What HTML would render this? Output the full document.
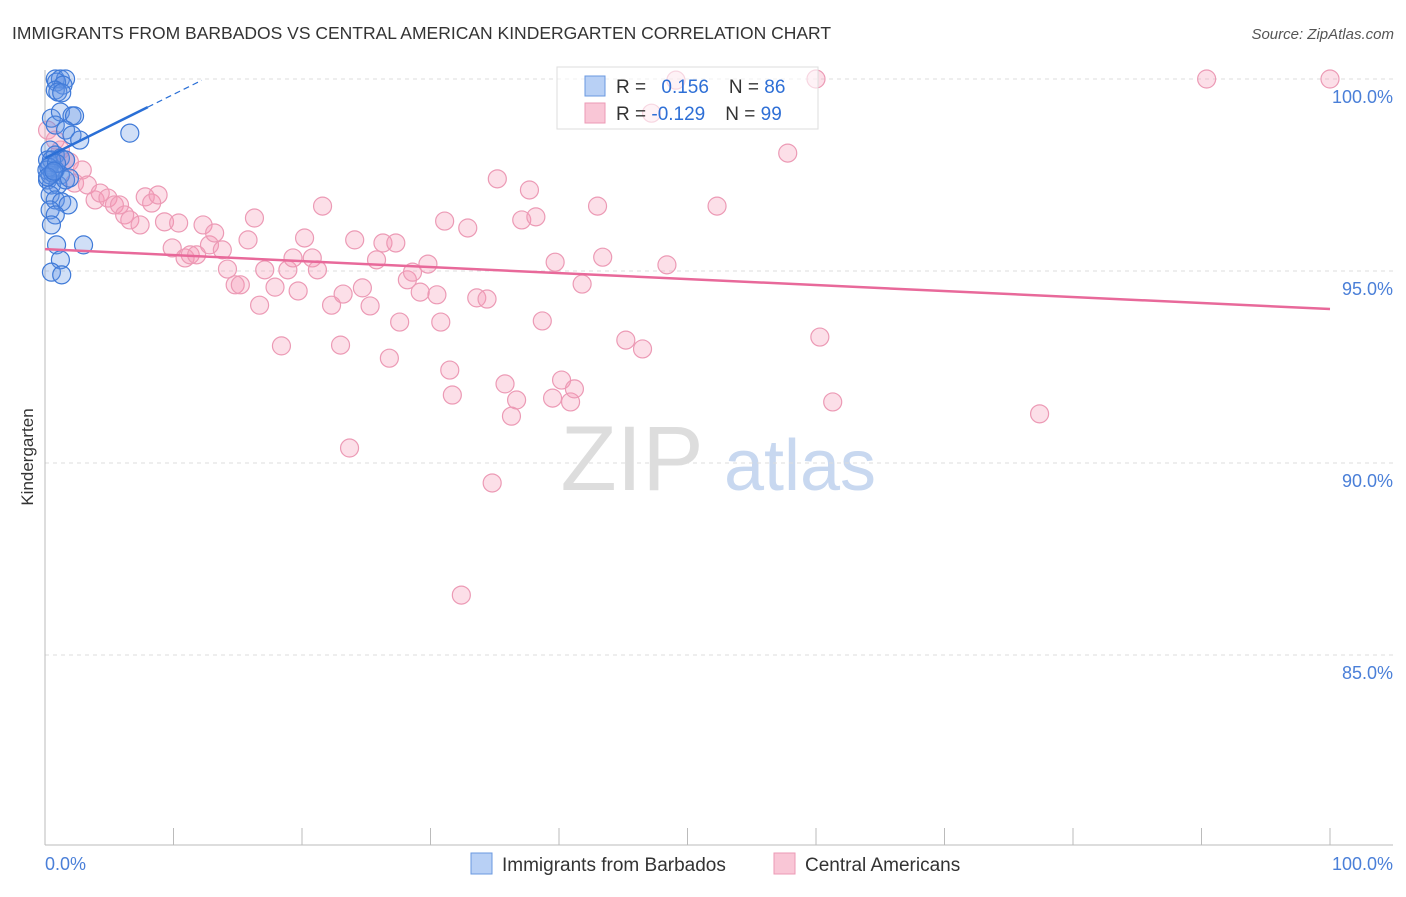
<!DOCTYPE html>
<html><head><meta charset="utf-8"><style>
body{margin:0;background:#fff;font-family:"Liberation Sans",sans-serif}
svg text{font-family:"Liberation Sans",sans-serif}
</style></head><body>
<svg id="chart" width="1406" height="892">
<text x="12" y="39" font-size="17.5" fill="#333">IMMIGRANTS FROM BARBADOS VS CENTRAL AMERICAN KINDERGARTEN CORRELATION CHART</text>
<text x="1394" y="39" font-size="15" fill="#555" font-style="italic" text-anchor="end">Source: ZipAtlas.com</text>
<text x="33" y="457" font-size="17" fill="#333" transform="rotate(-90 33 457)" text-anchor="middle">Kindergarten</text>
<g><text x="632" y="490" font-size="92" fill="#ddd" text-anchor="middle" font-family="Liberation Serif">ZIP</text><text x="800" y="490" font-size="72" fill="#c8d8f0" text-anchor="middle">atlas</text></g>
<g id="grid"></g><g id="marks"></g>
<g>
<rect x="557" y="67" width="261" height="62" fill="rgba(255,255,255,0.6)" stroke="#ddd"/>
<rect x="585" y="76" width="20" height="20" fill="#b8d0f5" stroke="#6a98e0"/>
<rect x="585" y="103" width="20" height="20" fill="#f9c6d6" stroke="#ec9ab5"/>
<text x="616" y="93" font-size="19" fill="#333">R = <tspan fill="#2e6fd6" dx="10">0.156</tspan><tspan dx="20">N = </tspan><tspan fill="#2e6fd6">86</tspan></text>
<text x="616" y="120" font-size="19" fill="#333">R = <tspan fill="#2e6fd6">-0.129</tspan><tspan dx="20">N = </tspan><tspan fill="#2e6fd6">99</tspan></text>
</g>
<g>
<rect x="471" y="853" width="21" height="21" fill="#b8d0f5" stroke="#6a98e0"/>
<text x="502" y="871" font-size="19" fill="#333">Immigrants from Barbados</text>
<rect x="774" y="853" width="21" height="21" fill="#f9c6d6" stroke="#ec9ab5"/>
<text x="805" y="871" font-size="19" fill="#333">Central Americans</text>
</g>
</svg>
<script>
const yTicks=[100,95,90,85];
const yTickLabels=["100.0%","95.0%","90.0%","85.0%"];
const xTicks=[0,10,20,30,40,50,60,70,80,90,100];
const xEndLabels=["0.0%","100.0%"];
const blueX=[0.8,1.2,1.6,0.9,1.4,0.8,1.0,1.3,0.5,1.2,2.1,2.3,0.8,1.6,2.1,2.7,6.6,0.4,0.8,1.2,1.6,0.4,0.8,1.2,0.2,0.5,1.0,1.6,1.9,0.4,0.8,1.3,1.8,0.4,0.8,0.5,0.9,3.0,1.2,0.5,1.3,0.2,0.5,0.15,0.4,0.3,0.6,0.9,0.2,0.7];
const blueY=[100,100,100,99.92,99.84,99.71,99.66,99.64,98.98,99.14,99.04,99.04,98.8,98.67,98.54,98.41,98.59,98.15,98.02,97.94,97.89,97.76,97.63,97.5,97.37,97.24,97.24,97.37,97.42,96.98,96.85,96.8,96.72,96.59,96.46,96.2,95.68,95.68,95.29,94.97,94.9,97.89,97.89,97.63,97.5,97.7,97.55,97.8,97.45,97.6];
const pinkX=[0.2,0.8,1.2,1.6,1.9,2.9,2.3,3.3,3.9,4.3,4.9,5.4,5.8,6.2,6.6,7.4,7.8,8.3,8.8,9.3,9.9,10.4,10.9,11.3,11.8,12.3,12.8,13.2,13.8,14.2,14.8,15.2,15.8,16.3,16.7,17.1,17.9,18.4,18.9,19.3,19.7,20.2,20.8,21.2,21.6,22.3,23.0,23.2,23.7,24.1,24.7,25.3,25.8,26.3,26.8,27.3,27.6,28.2,28.6,29.2,29.8,30.5,30.8,31.1,31.5,31.7,32.4,32.9,33.6,34.4,34.8,35.2,35.8,36.3,36.7,37.1,37.7,38.2,38.7,39.5,39.7,40.2,40.9,41.2,41.8,43.0,43.4,45.2,46.5,48.4,49.1,52.3,57.8,60.0,60.3,61.3,77.4,90.4,100,47.2];
const pinkY=[98.67,98.41,98.15,97.89,97.84,97.63,97.29,97.24,96.85,97.03,96.9,96.72,96.72,96.46,96.33,96.2,96.93,96.77,96.98,96.28,95.6,96.25,95.34,95.42,95.42,96.2,95.68,95.99,95.55,95.05,94.64,94.64,95.81,96.38,94.11,95.03,94.58,93.05,95.03,95.34,94.48,95.86,95.34,95.03,96.69,94.11,93.07,94.4,90.39,95.81,94.56,94.09,95.29,95.73,92.73,95.73,93.67,94.77,94.97,94.45,95.18,94.38,93.67,96.3,92.42,91.77,86.56,96.12,94.3,94.27,89.48,97.4,92.06,91.22,91.64,96.33,97.11,96.41,93.7,91.69,95.23,92.16,91.59,91.93,94.66,96.69,95.36,93.2,92.97,95.16,99.97,96.69,98.07,100,93.28,91.59,91.28,100,100,99.11];
const blueTrend=[97.94,0.166];
const pinkTrend=[95.57,-0.0156];
const X0=45,X1=1330,YT=79,YB=845;
const sx=v=>X0+(v/100)*(X1-X0);
const sy=v=>YT+(100-v)*38.4;
const NS="http://www.w3.org/2000/svg";
function mk(p,t,a){const e=document.createElementNS(NS,t);for(const k in a)e.setAttribute(k,a[k]);p.appendChild(e);return e;}
const g=document.getElementById('grid'),m=document.getElementById('marks');
yTicks.forEach((t,i)=>{
 const l=mk(g,'line',{x1:X0,x2:1393,y1:sy(t),y2:sy(t),stroke:'#ddd','stroke-dasharray':'4 4'});
 
 
 const tx=mk(g,'text',{x:1393,y:sy(t)+24,'font-size':18,fill:'#4a7fd8','text-anchor':'end'});tx.textContent=yTickLabels[i];
 
 
});
mk(g,'line',{x1:X0,x2:X0,y1:70,y2:YB,stroke:'#bbb'});
mk(g,'line',{x1:X0,x2:1393,y1:YB,y2:YB,stroke:'#bbb'});
xTicks.forEach(t=>{const l=mk(g,'line',{x1:sx(t),x2:sx(t),y1:828,y2:YB,stroke:'#bbb'});
 
 });
const xl0=mk(g,'text',{x:45,y:870,'font-size':18,fill:'#4a7fd8'});xl0.textContent=xEndLabels[0];


const xl1=mk(g,'text',{x:1393,y:870,'font-size':18,fill:'#4a7fd8','text-anchor':'end'});xl1.textContent=xEndLabels[1];


pinkX.forEach((x,i)=>{const c=mk(m,'circle',{cx:sx(x),cy:sy(pinkY[i]),r:9,fill:'rgba(244,150,180,0.3)',stroke:'#ec9ab5','stroke-width':1.2});
 
 });
blueX.forEach((x,i)=>{const c=mk(m,'circle',{cx:sx(x),cy:sy(blueY[i]),r:9,fill:'rgba(100,150,230,0.3)',stroke:'#3f7ad8','stroke-width':1.2});
 
 });
const pl=mk(m,'line',{x1:sx(0),y1:sy(pinkTrend[0]),x2:sx(100),y2:sy(pinkTrend[0]+100*pinkTrend[1]),stroke:'#e8699a','stroke-width':2.5});


const bl=mk(m,'line',{x1:sx(0),y1:sy(blueTrend[0]),x2:sx(8),y2:sy(blueTrend[0]+8*blueTrend[1]),stroke:'#2a6fd6','stroke-width':2.5});


const bd=mk(m,'line',{x1:sx(8),y1:sy(blueTrend[0]+8*blueTrend[1]),x2:sx(12.2),y2:sy(blueTrend[0]+12.2*blueTrend[1]),stroke:'#2a6fd6','stroke-width':1.2,'stroke-dasharray':'6 4'});


</script>
</body></html>
